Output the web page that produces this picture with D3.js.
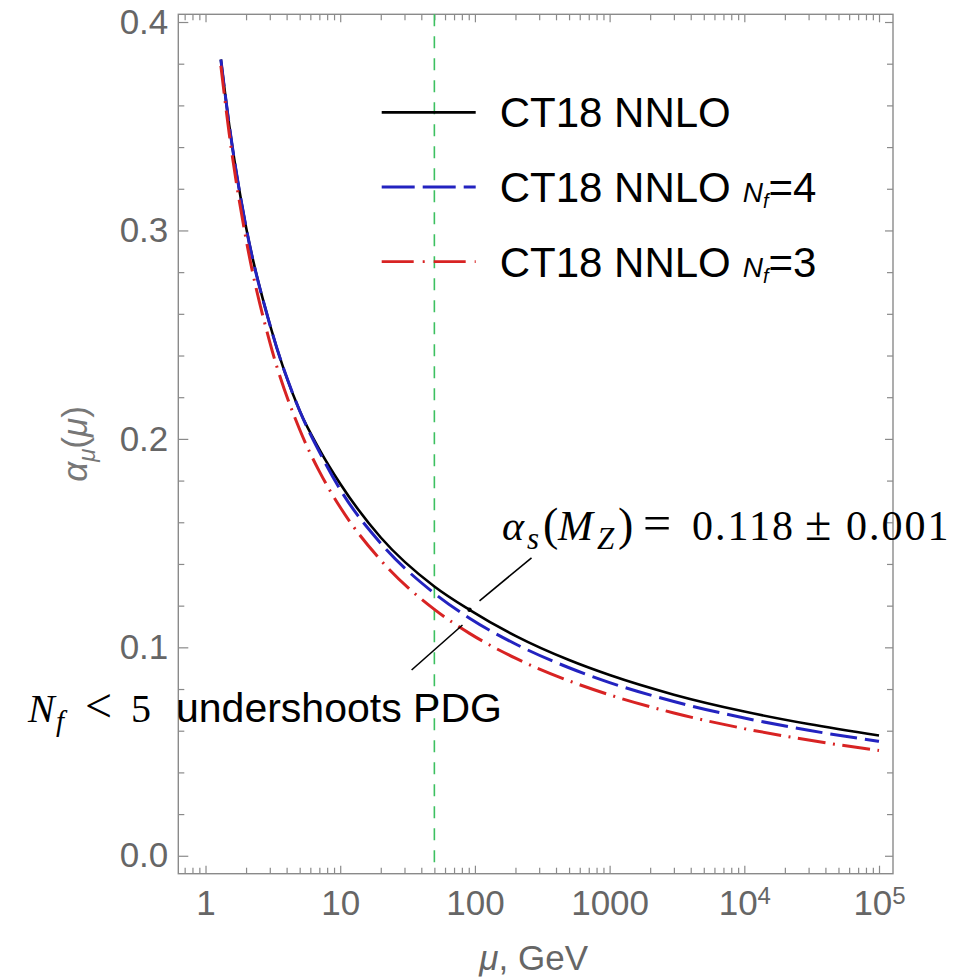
<!DOCTYPE html>
<html>
<head>
<meta charset="utf-8">
<script src="https://cdn.jsdelivr.net/npm/d3@7"></script>
<style>
body { margin: 0; background: #fff; }
svg { display: block; }
</style>
</head>
<body>
<div class="alpha"></div>
<script>
// running coupling alpha_s(mu)
var mu      = [1.3, 1.5, 2, 3, 5, 7, 10, 20, 50, 91.19, 200, 500, 1000, 3000, 1e4, 3e4, 1e5];
var ct18    = [0.382, 0.3505, 0.3015, 0.255, 0.2135, 0.195, 0.1785, 0.1527, 0.1292, 0.118, 0.1055, 0.0939, 0.0867, 0.0773, 0.0692, 0.0632, 0.0577];
var ct18nf4 = [0.382, 0.3505, 0.3015, 0.255, 0.2135, 0.1938, 0.1757, 0.1499, 0.1259, 0.114, 0.1016, 0.0902, 0.0831, 0.074, 0.0661, 0.0602, 0.0549];
var ct18nf3 = [0.379, 0.3464, 0.2958, 0.2464, 0.2045, 0.1844, 0.1672, 0.1418, 0.1182, 0.1067, 0.0948, 0.0839, 0.0772, 0.0685, 0.061, 0.0555, 0.0505];

// axis ticks
var xTicks = [1, 10, 100, 1000, 1e4, 1e5];
var xTickLabels = ["1", "10", "100", "1000", "10^4", "10^5"];
var yTicks = [0, 0.1, 0.2, 0.3, 0.4];
var yTickLabels = ["0.0", "0.1", "0.2", "0.3", "0.4"];

// marker line and the M_Z point
var muMarker = 50;
var mZ = 91.19, alphaMZ = 0.118;

// legend
var legendNames = ["CT18 NNLO", "CT18 NNLO", "CT18 NNLO"];
var legendNf = [null, "4", "3"];
var legendColors = ["#000000", "#2323c0", "#d82323"];
var legendDash = [null, "33,8", "32,9,2,9"];

// set the dimensions and margins of the graph
var margin = {top: 14.3, right: 75, bottom: 104.3, left: 178.3},
    width = 968 - margin.left - margin.right,
    height = 978 - margin.top - margin.bottom;

var x = d3.scaleLog().domain([0.628, 1.27e5]).range([0, width]);
var y = d3.scaleLinear().domain([-0.0086, 0.4037]).range([height, 0]);

var svg = d3.select(".alpha").append("svg")
    .attr("width", 968)
    .attr("height", 978);

var chart = svg.append("g")
    .attr("transform", "translate(" + margin.left + "," + margin.top + ")");

var axisGrey = "#8a8a8a";
var labelGrey = "#666666";

// minor ticks
var xMinor = x.ticks().filter(function(d) { return xTicks.indexOf(d) < 0; });
var yMinor = d3.range(0, 0.41, 0.02).filter(function(d) {
  return Math.abs(Math.round(d * 10) - d * 10) > 1e-6;
});

function styleAxis(g) {
  g.select(".domain").remove();
  g.selectAll("line").attr("stroke", axisGrey).attr("stroke-width", 1.2);
  g.selectAll("text")
      .attr("fill", labelGrey)
      .attr("font-family", "'Liberation Sans', Arial, sans-serif")
      .attr("font-size", 35);
}

// bottom axis
chart.append("g")
    .attr("transform", "translate(0," + height + ")")
    .call(d3.axisBottom(x).tickValues(xMinor).tickSize(-6).tickFormat(""))
    .call(styleAxis);
var xAxis = chart.append("g")
    .attr("transform", "translate(0," + height + ")")
    .call(d3.axisBottom(x).tickValues(xTicks).tickSize(-8).tickPadding(16)
      .tickFormat(function(d, i) { return xTickLabels[i]; }))
    .call(styleAxis);
xAxis.selectAll(".tick text").each(function(d, i) {
  var parts = xTickLabels[i].split("^");
  if (parts.length > 1) {
    var t = d3.select(this).text(parts[0]);
    t.append("tspan").attr("font-size", 24).attr("dy", -11).text(parts[1]);
  }
});

// top axis (ticks only)
chart.append("g")
    .call(d3.axisTop(x).tickValues(xMinor).tickSize(-6).tickFormat(""))
    .call(styleAxis);
chart.append("g")
    .call(d3.axisTop(x).tickValues(xTicks).tickSize(-8).tickFormat(""))
    .call(styleAxis);

// left axis
chart.append("g")
    .call(d3.axisLeft(y).tickValues(yMinor).tickSize(-6).tickFormat(""))
    .call(styleAxis);
chart.append("g")
    .call(d3.axisLeft(y).tickValues(yTicks).tickSize(-10).tickPadding(10)
      .tickFormat(function(d, i) { return yTickLabels[i]; }))
    .call(styleAxis);

// right axis (ticks only)
chart.append("g")
    .attr("transform", "translate(" + width + ",0)")
    .call(d3.axisRight(y).tickValues(yMinor).tickSize(-6).tickFormat(""))
    .call(styleAxis);
chart.append("g")
    .attr("transform", "translate(" + width + ",0)")
    .call(d3.axisRight(y).tickValues(yTicks).tickSize(-8).tickFormat(""))
    .call(styleAxis);

// frame
chart.append("rect")
    .attr("width", width)
    .attr("height", height)
    .attr("fill", "none")
    .attr("stroke", axisGrey)
    .attr("stroke-width", 1.4);

// green dashed marker
chart.append("line")
    .attr("x1", x(muMarker)).attr("x2", x(muMarker))
    .attr("y1", 0).attr("y2", y(-0.004))
    .attr("stroke", "#3cc060")
    .attr("stroke-width", 1.6)
    .attr("stroke-dasharray", "12,10");

// curves
var line = d3.line()
    .x(function(d) { return x(d[0]); })
    .y(function(d) { return y(d[1]); })
    .curve(d3.curveMonotoneX);

var series = [
  {values: ct18,    color: legendColors[0], width: 2.6, dash: null},
  {values: ct18nf4, color: legendColors[1], width: 3,   dash: "27,8"},
  {values: ct18nf3, color: legendColors[2], width: 3,   dash: "28,7.5,2,7.5"}
];
series.forEach(function(s) {
  chart.append("path")
      .datum(mu.map(function(m, i) { return [m, s.values[i]]; }))
      .attr("d", line)
      .attr("fill", "none")
      .attr("stroke", s.color)
      .attr("stroke-width", s.width)
      .attr("stroke-dasharray", s.dash);
});

// M_Z point
chart.append("circle")
    .attr("cx", x(mZ)).attr("cy", y(alphaMZ))
    .attr("r", 2.2)
    .attr("fill", "#000");

// axis titles
chart.append("text")
    .attr("x", width / 2 - 2)
    .attr("y", height + 96)
    .attr("text-anchor", "middle")
    .attr("fill", labelGrey)
    .attr("font-family", "'Liberation Sans', Arial, sans-serif")
    .attr("font-size", 35)
    .call(function(t) {
      t.append("tspan").attr("font-style", "italic").text("μ");
      t.append("tspan").text(", GeV");
    });

chart.append("text")
    .attr("transform", "translate(" + (-91) + "," + (height / 2) + ") rotate(-90)")
    .attr("text-anchor", "middle")
    .attr("fill", "#777")
    .attr("font-family", "'Liberation Sans', Arial, sans-serif")
    .attr("font-size", 35)
    .call(function(t) {
      t.append("tspan").attr("font-style", "italic").text("α");
      t.append("tspan").attr("font-size", 24).attr("font-style", "italic").attr("dy", 8).text("μ");
      t.append("tspan").attr("dy", -8).text("(");
      t.append("tspan").attr("font-style", "italic").text("μ");
      t.append("tspan").text(")");
    });

// legend
var legend = chart.selectAll(".legend")
    .data(legendNames)
  .enter().append("g")
    .attr("class", "legend")
    .attr("transform", function(d, i) { return "translate(203.4," + (98 + i * 74.7) + ")"; });

legend.append("line")
    .attr("x1", 0).attr("x2", 94)
    .attr("stroke", function(d, i) { return legendColors[i]; })
    .attr("stroke-width", 2.8)
    .attr("stroke-dasharray", function(d, i) { return legendDash[i]; });

legend.append("text")
    .attr("x", 118)
    .attr("y", 15)
    .attr("font-family", "'Liberation Sans', Arial, sans-serif")
    .attr("font-size", 42)
    .attr("fill", "#000")
    .each(function(d, i) {
      var t = d3.select(this);
      t.append("tspan").text(d);
      if (legendNf[i]) {
        t.append("tspan").attr("dx", 12).attr("font-size", 28).attr("font-style", "italic").text("N");
        t.append("tspan").attr("font-size", 20).attr("font-style", "italic").attr("dy", 6).text("f");
        t.append("tspan").attr("dy", -6).text("=" + legendNf[i]);
      }
    });

// annotations (page coordinates)
var note = svg.append("g")
    .attr("font-family", "'Liberation Serif', 'DejaVu Serif', serif")
    .attr("fill", "#000");

var mzx = margin.left + x(mZ), mzy = margin.top + y(alphaMZ);
note.append("line")
    .attr("x1", mzx + 62).attr("y1", mzy - 52)
    .attr("x2", mzx + 10).attr("y2", mzy - 9)
    .attr("stroke", "#000").attr("stroke-width", 1.6);

note.append("line")
    .attr("x1", 411.6).attr("y1", 670)
    .attr("x2", 462.5).attr("y2", 625)
    .attr("stroke", "#000").attr("stroke-width", 1.6);

var a = note.append("text").attr("y", 540).attr("font-size", 42);
a.append("tspan").attr("x", 502).attr("font-style", "italic").text("α");
a.append("tspan").attr("x", 527).attr("dy", 9).attr("font-size", 31).attr("font-style", "italic").text("s");
a.append("tspan").attr("x", 543).attr("dy", -9).attr("font-size", 46).text("(");
a.append("tspan").attr("x", 558).attr("font-style", "italic").text("M");
a.append("tspan").attr("x", 597).attr("dy", 9).attr("font-size", 31).attr("font-style", "italic").text("Z");
a.append("tspan").attr("x", 618).attr("dy", -9).attr("font-size", 46).text(")");
a.append("tspan").attr("x", 643).attr("font-size", 50).text("=");
a.append("tspan").attr("x", 692).attr("letter-spacing", 2).text("0.118");
a.append("tspan").attr("x", 805).attr("font-size", 48).text("±");
a.append("tspan").attr("x", 846).attr("letter-spacing", 2).text("0.001");

var b = note.append("text").attr("y", 722).attr("font-size", 40);
b.append("tspan").attr("x", 28).attr("font-style", "italic").text("N");
b.append("tspan").attr("x", 56).attr("dy", 9).attr("font-size", 29).attr("font-style", "italic").text("f");
b.append("tspan").attr("x", 85).attr("dy", -9).attr("font-size", 48).text("<");
b.append("tspan").attr("x", 131).text("5");
b.append("tspan").attr("x", 176).attr("font-family", "'Liberation Sans', Arial, sans-serif").attr("font-size", 41).text("undershoots PDG");
</script>
</body>
</html>
